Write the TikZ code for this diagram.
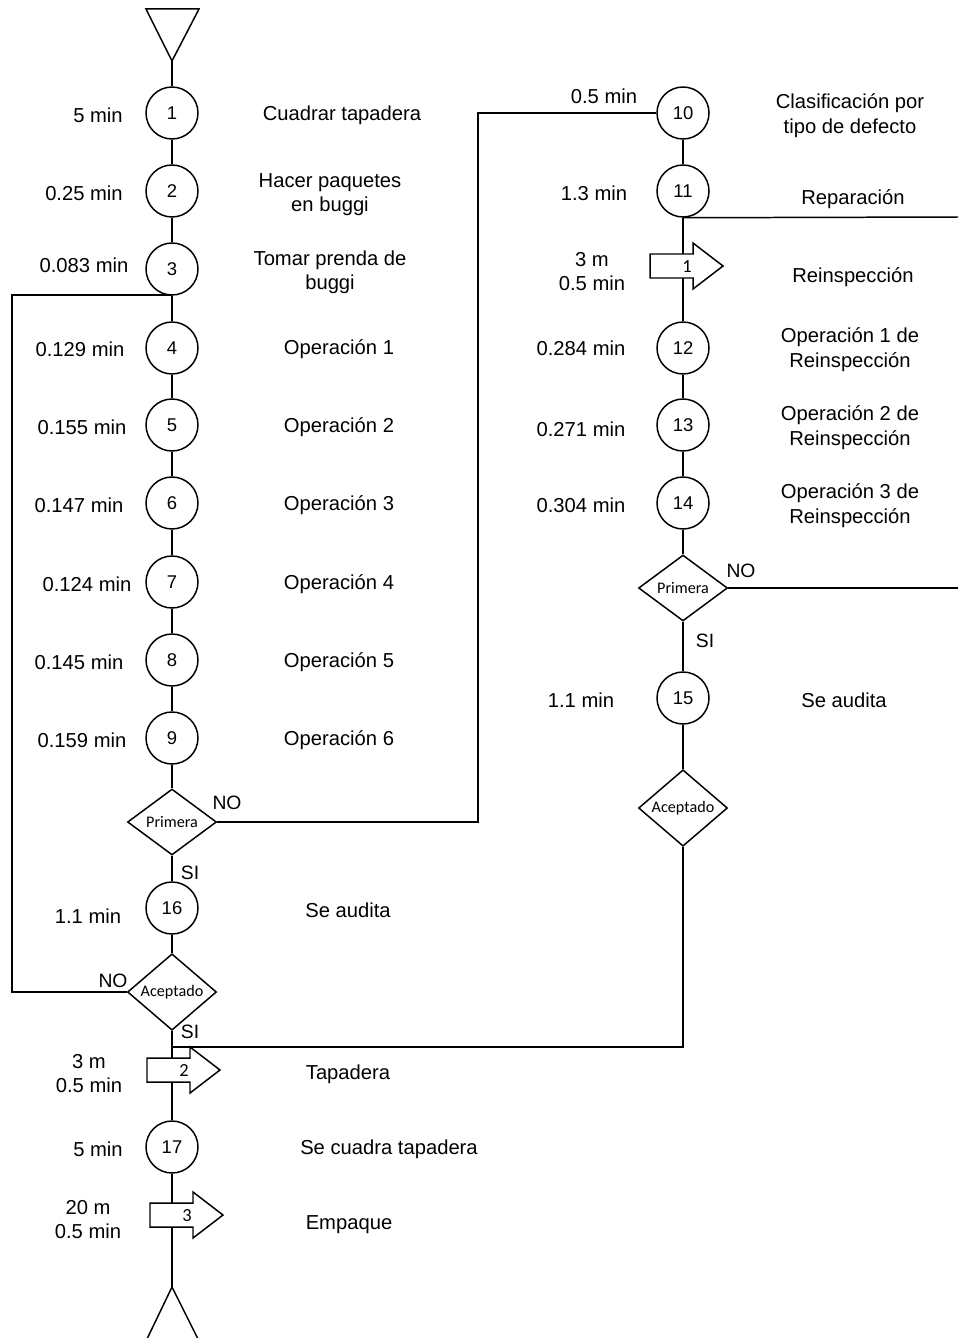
\documentclass[tikz,border=0pt]{standalone}
\usepackage{fontspec}
\setmainfont{Liberation Sans}
\newfontfamily\calibri{Carlito}
\usetikzlibrary{positioning,shapes.geometric}

% transport arrow: name, left x, mid y, number
\newcommand{\transporte}[4]{%
  \draw[trans] (#2,#3-12) -- ++(43,0) -- ++(0,-11) -- (#2+73,#3) -- (#2+43,#3+23)
    -- ++(0,-11) -- (#2,#3+12) -- cycle;
  \node[num] (#1) at (#2+37,#3+1) {#4};}

\begin{document}
\begin{tikzpicture}[
  x=0.02cm, y=-0.02cm,
  font=\fontsize{11.5}{13.7}\selectfont,
  line width=0.85pt,
  op/.style={circle, draw, fill=white, minimum size=1.04cm, inner sep=0pt, font=\fontsize{10.5}{12}\selectfont},
  dec/.style={diamond, draw, fill=white, minimum width=1.78cm, minimum height=1.32cm, inner sep=0pt, font=\calibri\fontsize{9.2}{10}\selectfont},
  lbl/.style={align=center, inner sep=1pt, yshift=-1.5pt},
  tag/.style={font=\fontsize{11}{12}\selectfont, inner sep=1pt},
  num/.style={font=\calibri\fontsize{10.5}{12}\selectfont, inner sep=0pt},
  trans/.style={draw, fill=white},
  ends/.style={draw, fill=white},
]
\useasboundingbox (0,0) rectangle (958,1338);

% ---------- start / end ----------
\coordinate (inicio) at (172,61);
\coordinate (fin) at (172,1287);

% ---------- left column ----------
\node[op] (c1) at (172,113) {1};
\node[op] (c2) at (172,191) {2};
\node[op] (c3) at (172,269) {3};
\node[op] (c4) at (172,348) {4};
\node[op] (c5) at (172,425) {5};
\node[op] (c6) at (172,503) {6};
\node[op] (c7) at (172,582) {7};
\node[op] (c8) at (172,660) {8};
\node[op] (c9) at (172,738) {9};
\node[dec] (p1) at (172,822) {Primera};
\node[op] (c16) at (172,908) {16};
\node[dec] (a1) at (172,992) {Aceptado};
\node[op] (c17) at (172,1147) {17};

\node[lbl] (t1) at (98,113) {5 min};
\node[lbl] (t2) at (84,191) {0.25 min};
\node[lbl] (t3) at (84,263) {0.083 min};
\node[lbl] (t4) at (80,347) {0.129 min};
\node[lbl] (t5) at (82,425) {0.155 min};
\node[lbl] (t6) at (79,503) {0.147 min};
\node[lbl] (t7) at (87,582) {0.124 min};
\node[lbl] (t8) at (79,660) {0.145 min};
\node[lbl] (t9) at (82,738) {0.159 min};
\node[lbl] (t16) at (88,914) {1.1 min};
\node[lbl] (tt2) at (89,1071) {3 m\\0.5 min};
\node[lbl] (t17) at (98,1147) {5 min};
\node[lbl] (tt3) at (88,1217) {20 m\\0.5 min};

\node[lbl] (d1) at (342,113) {Cuadrar tapadera};
\node[lbl] (d2) at (330,192) {Hacer paquetes\\en buggi};
\node[lbl] (d3) at (330,270) {Tomar prenda de\\buggi};
\node[lbl] (d4) at (339,347) {Operación 1};
\node[lbl] (d5) at (339,425) {Operación 2};
\node[lbl] (d6) at (339,503) {Operación 3};
\node[lbl] (d7) at (339,582) {Operación 4};
\node[lbl] (d8) at (339,660) {Operación 5};
\node[lbl] (d9) at (339,738) {Operación 6};
\node[lbl] (d16) at (348,908) {Se audita};
\node[lbl] (dt2) at (348,1072) {Tapadera};
\node[lbl] (d17) at (389,1147) {Se cuadra tapadera};
\node[lbl] (dt3) at (349,1222) {Empaque};

% ---------- right column ----------
\node[op] (c10) at (683,113) {10};
\node[op] (c11) at (683,191) {11};
\node[op] (c12) at (683,348) {12};
\node[op] (c13) at (683,425) {13};
\node[op] (c14) at (683,503) {14};
\node[dec] (p2) at (683,588) {Primera};
\node[op] (c15) at (683,698) {15};
\node[dec] (a2) at (683,808) {Aceptado};

\node[lbl] (t10) at (604,94) {0.5 min};
\node[lbl] (t11) at (594,191) {1.3 min};
\node[lbl] (tt1) at (592,269) {3 m\\0.5 min};
\node[lbl] (t12) at (581,346) {0.284 min};
\node[lbl] (t13) at (581,427) {0.271 min};
\node[lbl] (t14) at (581,503) {0.304 min};
\node[lbl] (t15) at (581,698) {1.1 min};

\node[lbl] (d10) at (850,113) {Clasificación por\\tipo de defecto};
\node[lbl] (d11) at (853,197) {Reparación};
\node[lbl] (dt1) at (853,275) {Reinspección};
\node[lbl] (d12) at (850,347) {Operación 1 de\\Reinspección};
\node[lbl] (d13) at (850,425) {Operación 2 de\\Reinspección};
\node[lbl] (d14) at (850,503) {Operación 3 de\\Reinspección};
\node[lbl] (d15) at (844,698) {Se audita};

% ---------- decision tags ----------
\node[tag] (no1) at (227,803) {NO};
\node[tag] (si1) at (190,873) {SI};
\node[tag] (no2) at (113,981) {NO};
\node[tag] (si2) at (190,1032) {SI};
\node[tag] (no3) at (741,571) {NO};
\node[tag] (si3) at (705,641) {SI};

% ---------- helper points ----------
\coordinate (j3) at (172,295);
\coordinate (j17) at (172,1047);
\coordinate (x1) at (478,822);
\coordinate (x2) at (12,992);
\coordinate (r11) at (958,217);
\coordinate (r2) at (958,588);

% ---------- flows ----------
\draw (inicio) -- (c1);
\draw (c1) -- (c2);
\draw (c2) -- (c3);
\draw (c3) -- (c4);
\draw (c4) -- (c5);
\draw (c5) -- (c6);
\draw (c6) -- (c7);
\draw (c7) -- (c8);
\draw (c8) -- (c9);
\draw (c9) -- (p1);
\draw (p1) -- (c16);
\draw (c16) -- (a1);
\draw (a1) -- (c17);
\draw (c17) -- (fin);

\draw (c10) -- (c11);
\draw (c11) -- (c12);
\draw (c12) -- (c13);
\draw (c13) -- (c14);
\draw (c14) -- (p2);
\draw (p2) -- (c15);
\draw (c15) -- (a2);

% loops
\draw (p1.east) -- (x1) |- (c10.west);
\draw (a1.west) -- (x2) |- (j3);
\draw (a2.south) |- (j17);
\draw (c11.south) -- (r11);
\draw (p2.east) -- (r2);

% ---------- transports ----------
\transporte{tr1}{650}{266}{1}
\transporte{tr2}{147}{1070}{2}
\transporte{tr3}{150}{1215}{3}

% ---------- start / end symbols ----------
\draw[ends] (146,9) -- (199,9) -- (inicio) -- cycle;
\draw[ends] (fin) -- (198,1339) -- (147,1339) -- cycle;

\end{tikzpicture}
\end{document}
